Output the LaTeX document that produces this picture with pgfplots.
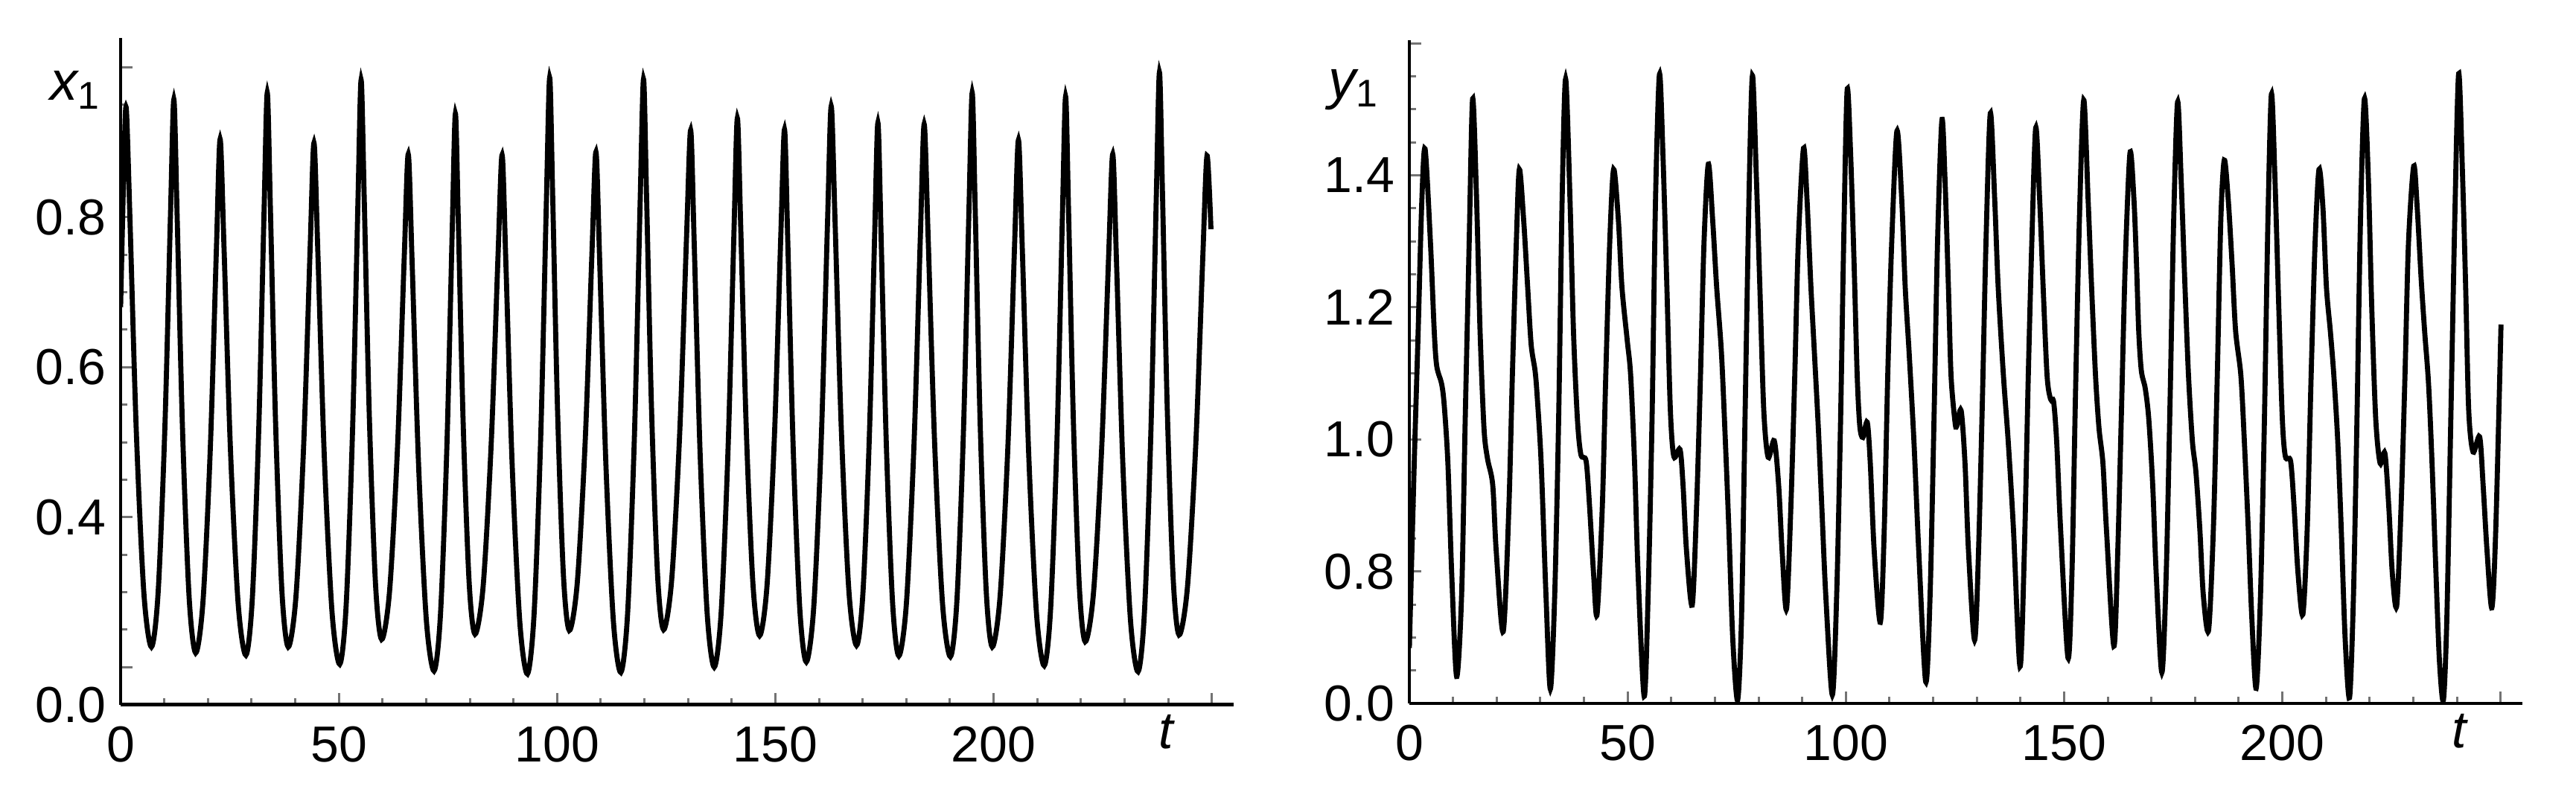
\documentclass[border=0pt]{standalone}
\usepackage{fontspec}
\setmainfont{Liberation Sans}
\usepackage{pgfplots}
\pgfplotsset{compat=1.18}

% Mathematica-like look: left/bottom axis lines, grey inner ticks
\pgfplotsset{
  mma/.style={
    scale only axis,
    width=149.5pt,
    anchor=south west,
    axis lines=left,
    axis line style={-, line width=0.45pt},
    tick align=inside,
    tick style={black!55, line width=0.3pt},
    major tick length=1.6pt,
    minor tick length=0.9pt,
    xmin=0, xmax=255,
    xtick={0,50,100,150,200,250},
    xticklabels={0,50,100,150,200,},
    minor xtick={10,20,...,240},
    tick label style={font=\fontsize{6.8}{8}\selectfont},
    yticklabel style={anchor=east, inner sep=0pt, xshift=-1.8pt},
    xticklabel style={anchor=north, inner sep=0pt, yshift=-2.7pt},
  },
}

\begin{document}
\begin{tikzpicture}
\path[use as bounding box] (0,0) rectangle (346pt,106.4pt);

% ---------- left panel: x_1(t) ----------
\begin{axis}[
    mma,
    at={(16.2pt,11.73pt)},
    height=89.57pt,
    ymin=0.15, ymax=1.039,
    ytick={0.15,0.2,0.4,0.6,0.8,1.0},
    yticklabels={0.0,,0.4,0.6,0.8,},
    minor ytick={0.25,0.3,0.35,0.45,0.5,0.55,0.65,0.7,0.75,0.85,0.9,0.95},
    xlabel={\itshape t},
    every axis x label/.style={at={(rel axis cs:0.9396,0)}, anchor=center, yshift=-3.7pt,
      font=\fontsize{7}{8}\selectfont},
    ylabel={{\itshape x}\textsubscript{1}},
    every axis y label/.style={at={(rel axis cs:0,0.922)}, anchor=east, inner sep=0pt, xshift=-2.2pt,
      font=\fontsize{7.4}{8}\selectfont},
]
\addplot[black, line width=0.68pt, smooth] coordinates {
(0,0.68) (0.8,0.88) (1.3,0.945)
(2.16,0.794) (3.60,0.514) (5.33,0.299) (7.06,0.227)
(8.60,0.300) (10.14,0.519) (11.43,0.804) (12.2,0.957)
(12.95,0.802) (14.2,0.514) (15.7,0.293) (17.2,0.219)
(18.88,0.288) (20.56,0.493) (21.96,0.760) (22.8,0.904)
(23.69,0.760) (25.16,0.491) (26.93,0.285) (28.7,0.216)
(30.17,0.291) (31.64,0.516) (32.87,0.809) (33.6,0.966)
(34.32,0.811) (35.52,0.523) (36.96,0.301) (38.4,0.227)
(40.17,0.294) (41.94,0.496) (43.42,0.758) (44.3,0.899)
(45.19,0.753) (46.66,0.482) (48.43,0.274) (50.2,0.204)
(51.67,0.282) (53.14,0.516) (54.37,0.819) (55.1,0.983)
(55.81,0.826) (56.98,0.535) (58.39,0.312) (59.8,0.237)
(61.63,0.302) (63.46,0.496) (64.99,0.748) (65.9,0.884)
(66.79,0.739) (68.26,0.471) (70.03,0.264) (71.8,0.195)
(73.27,0.269) (74.74,0.492) (75.97,0.782) (76.7,0.938)
(77.38,0.792) (78.5,0.522) (79.85,0.313) (81.2,0.244)
(83.06,0.308) (84.92,0.500) (86.47,0.749) (87.4,0.883)
(88.27,0.738) (89.72,0.468) (91.46,0.260) (93.2,0.191)
(94.73,0.271) (96.26,0.509) (97.54,0.819) (98.3,0.986)
(98.98,0.831) (100.1,0.544) (101.45,0.323) (102.8,0.249)
(104.63,0.313) (106.46,0.504) (107.99,0.753) (108.9,0.887)
(109.76,0.741) (111.18,0.471) (112.89,0.262) (114.6,0.193)
(116.16,0.272) (117.72,0.509) (119.02,0.818) (119.8,0.984)
(120.49,0.830) (121.64,0.544) (123.02,0.323) (124.4,0.250)
(126.26,0.317) (128.12,0.516) (129.67,0.776) (130.6,0.916)
(131.41,0.766) (132.76,0.486) (134.38,0.272) (136.0,0.200)
(137.59,0.273) (139.18,0.493) (140.51,0.778) (141.3,0.932)
(142.07,0.787) (143.34,0.518) (144.87,0.311) (146.4,0.242)
(148.11,0.310) (149.82,0.512) (151.25,0.775) (152.1,0.917)
(152.85,0.768) (154.1,0.491) (155.6,0.278) (157.1,0.207)
(158.81,0.281) (160.52,0.503) (161.95,0.792) (162.8,0.948)
(163.67,0.797) (165.12,0.517) (166.86,0.301) (168.6,0.229)
(170.07,0.299) (171.54,0.508) (172.77,0.780) (173.5,0.926)
(174.22,0.777) (175.42,0.499) (176.86,0.286) (178.3,0.215)
(180.04,0.286) (181.78,0.499) (183.23,0.775) (184.1,0.924)
(185.0,0.775) (186.5,0.498) (188.3,0.285) (190.1,0.214)
(191.6,0.289) (193.1,0.515) (194.35,0.808) (195.1,0.966)
(195.79,0.811) (196.94,0.523) (198.32,0.301) (199.7,0.227)
(201.5,0.295) (203.3,0.497) (204.8,0.761) (205.7,0.903)
(206.59,0.756) (208.06,0.482) (209.83,0.272) (211.6,0.202)
(213.07,0.278) (214.54,0.506) (215.77,0.802) (216.5,0.961)
(217.18,0.808) (218.3,0.525) (219.65,0.307) (221.0,0.234)
(222.89,0.299) (224.78,0.494) (226.36,0.748) (227.3,0.884)
(228.17,0.739) (229.62,0.470) (231.36,0.263) (233.1,0.194)
(234.57,0.274) (236.04,0.514) (237.27,0.825) (238.0,0.993)
(238.68,0.836) (239.8,0.543) (241.15,0.318) (242.5,0.243)
(244.42,0.307) (246.34,0.499) (247.94,0.748) (248.9,0.882)
(249.8,0.784)
};
\end{axis}

% ---------- right panel: y_1(t) ----------
\begin{axis}[
    mma,
    at={(189.3pt,11.88pt)},
    height=89.15pt,
    ymin=0.6, ymax=1.605,
    ytick={0.6,0.8,1.0,1.2,1.4,1.6},
    yticklabels={0.0,0.8,1.0,1.2,1.4,},
    minor ytick={0.65,0.7,0.75,0.85,0.9,0.95,1.05,1.1,1.15,1.25,1.3,1.35,1.45,1.5,1.55},
    xlabel={\itshape t},
    every axis x label/.style={at={(rel axis cs:0.9435,0)}, anchor=center, yshift=-3.7pt,
      font=\fontsize{7}{8}\selectfont},
    ylabel={{\itshape y}\textsubscript{1}},
    every axis y label/.style={at={(rel axis cs:0,0.925)}, anchor=east, inner sep=0pt, xshift=-3.6pt,
      font=\fontsize{7.4}{8}\selectfont},
]
\addplot[black, line width=0.68pt, smooth] coordinates {
(0,0.684) (1.1,0.96) (2.0,1.16) (2.85,1.36) (3.6,1.44)
(4.84,1.297) (5.7,1.164) (6.27,1.111) (7.4,1.084) (8.0,1.051) (8.83,0.964) (9.7,0.797) (10.83,0.641)
(11.97,0.764) (12.8,1.031) (13.7,1.297) (14.5,1.516)
(15.4,1.364) (16.2,1.164) (17.1,1.017) (17.9,0.971) (19.1,0.931) (19.9,0.831) (21.5,0.709)
(22.8,0.897) (23.6,1.097) (24.5,1.297) (25.2,1.409)
(26.2,1.331) (27.1,1.231) (27.9,1.144) (28.8,1.104) (29.3,1.064) (30.2,0.964) (31.3,0.764) (32.3,0.622)
(33.3,0.764) (34.2,1.031) (35.0,1.364) (35.8,1.546)
(36.8,1.364) (37.6,1.164) (38.5,1.031) (39.3,0.977) (40.5,0.967) (41.3,0.897) (42.2,0.797) (43.0,0.735)
(44.2,0.897) (45.0,1.097) (45.9,1.297) (46.8,1.409)
(47.9,1.331) (48.7,1.231) (49.9,1.151) (50.7,1.097) (51.6,0.964) (52.4,0.797) (53.8,0.611)
(54.7,0.764) (55.6,1.031) (56.4,1.364) (57.3,1.553)
(58.1,1.431) (59.0,1.231) (59.8,1.044) (60.6,0.974) (62.0,0.985) (62.7,0.931) (63.5,0.831) (64.8,0.749)
(65.8,0.897) (66.7,1.097) (67.5,1.297) (68.5,1.417)
(69.5,1.331) (70.4,1.231) (71.5,1.131) (72.4,0.997) (73.2,0.864) (74.1,0.697) (75.2,0.605)
(76.1,0.730) (76.9,1.031) (77.8,1.364) (78.6,1.551)
(79.5,1.397) (80.3,1.231) (81.2,1.044) (82.2,0.973) (83.6,0.998) (84.6,0.931) (85.4,0.831) (86.4,0.743)
(87.4,0.897) (88.3,1.097) (89.1,1.297) (90.3,1.441)
(91.1,1.364) (92.0,1.231) (92.8,1.131) (93.7,1.017) (94.5,0.897) (95.4,0.764) (96.9,0.613)
(97.9,0.764) (98.8,1.031) (99.5,1.297) (100.3,1.529)
(101.1,1.431) (101.9,1.264) (102.6,1.097) (103.2,1.02) (103.9,1.003) (104.9,1.026) (105.6,0.964) (106.5,0.831) (107.9,0.723)
(108.8,0.864) (109.6,1.097) (110.5,1.297) (111.7,1.467)
(112.8,1.364) (113.6,1.231) (114.5,1.131) (115.6,0.997) (116.7,0.831) (118.3,0.633)
(119.3,0.764) (120.2,1.031) (121.0,1.297) (122.0,1.483)
(122.7,1.397) (123.5,1.231) (124.1,1.097) (125.0,1.027) (125.4,1.020) (126.4,1.044) (127.3,0.964) (128.1,0.831) (129.5,0.696)
(130.4,0.831) (131.3,1.064) (132.1,1.297) (133.1,1.494)
(134.1,1.364) (134.9,1.231) (136.1,1.097) (137.2,0.997) (138.4,0.864) (139.9,0.656)
(140.9,0.831) (141.8,1.097) (142.6,1.297) (143.5,1.472)
(144.4,1.364) (145.2,1.231) (146.1,1.097) (146.9,1.061) (147.6,1.057) (148.3,0.997) (149.2,0.864) (150.9,0.669)
(151.8,0.797) (152.6,1.064) (153.5,1.331) (154.5,1.514)
(155.5,1.364) (156.3,1.231) (157.2,1.097) (158.0,1.017) (158.9,0.964) (159.7,0.864) (161.4,0.687)
(162.3,0.831) (163.1,1.031) (164.0,1.264) (165.1,1.434)
(166.0,1.364) (166.6,1.264) (167.1,1.164) (167.7,1.104) (168.6,1.077) (169.4,1.031) (170.3,0.931) (171.1,0.797) (172.4,0.647)
(173.4,0.797) (174.3,1.064) (175.1,1.331) (176.0,1.511)
(176.8,1.397) (177.7,1.231) (178.5,1.097) (179.4,0.997) (180.2,0.951) (181.1,0.864) (181.9,0.764) (183.1,0.711)
(184.2,0.864) (185.1,1.097) (185.9,1.331) (186.7,1.423)
(187.6,1.364) (188.5,1.264) (189.3,1.164) (190.5,1.097) (191.3,0.997) (192.2,0.864) (193.0,0.731) (194.0,0.623)
(195.0,0.764) (195.9,1.031) (196.7,1.331) (197.5,1.523)
(198.3,1.397) (199.2,1.197) (200.0,1.031) (200.7,0.974) (201.9,0.967) (202.7,0.897) (203.6,0.797) (204.7,0.735)
(205.7,0.864) (206.6,1.097) (207.5,1.297) (208.4,1.409)
(209.3,1.351) (210.1,1.231) (211.0,1.164) (211.8,1.097) (212.7,0.997) (213.5,0.864) (214.4,0.697) (215.4,0.609)
(216.3,0.764) (217.1,1.031) (217.9,1.331) (218.8,1.516)
(219.7,1.397) (220.5,1.197) (221.4,1.031) (222.4,0.964) (223.5,0.979) (224.4,0.897) (225.2,0.797) (226.2,0.748)
(227.2,0.897) (228.1,1.097) (228.9,1.297) (230.1,1.414)
(230.9,1.351) (231.8,1.244) (232.6,1.164) (233.5,1.084) (234.3,0.964) (235.2,0.797) (236.0,0.664) (236.9,0.605)
(237.7,0.731) (238.6,1.031) (239.5,1.331) (240.4,1.554)
(241.3,1.397) (242.0,1.231) (242.7,1.044) (243.7,0.981) (245.2,1.004) (246.0,0.931) (246.9,0.831) (248.0,0.745)
(248.9,0.864) (250.1,1.174)
};
\end{axis}
\end{tikzpicture}
\end{document}
